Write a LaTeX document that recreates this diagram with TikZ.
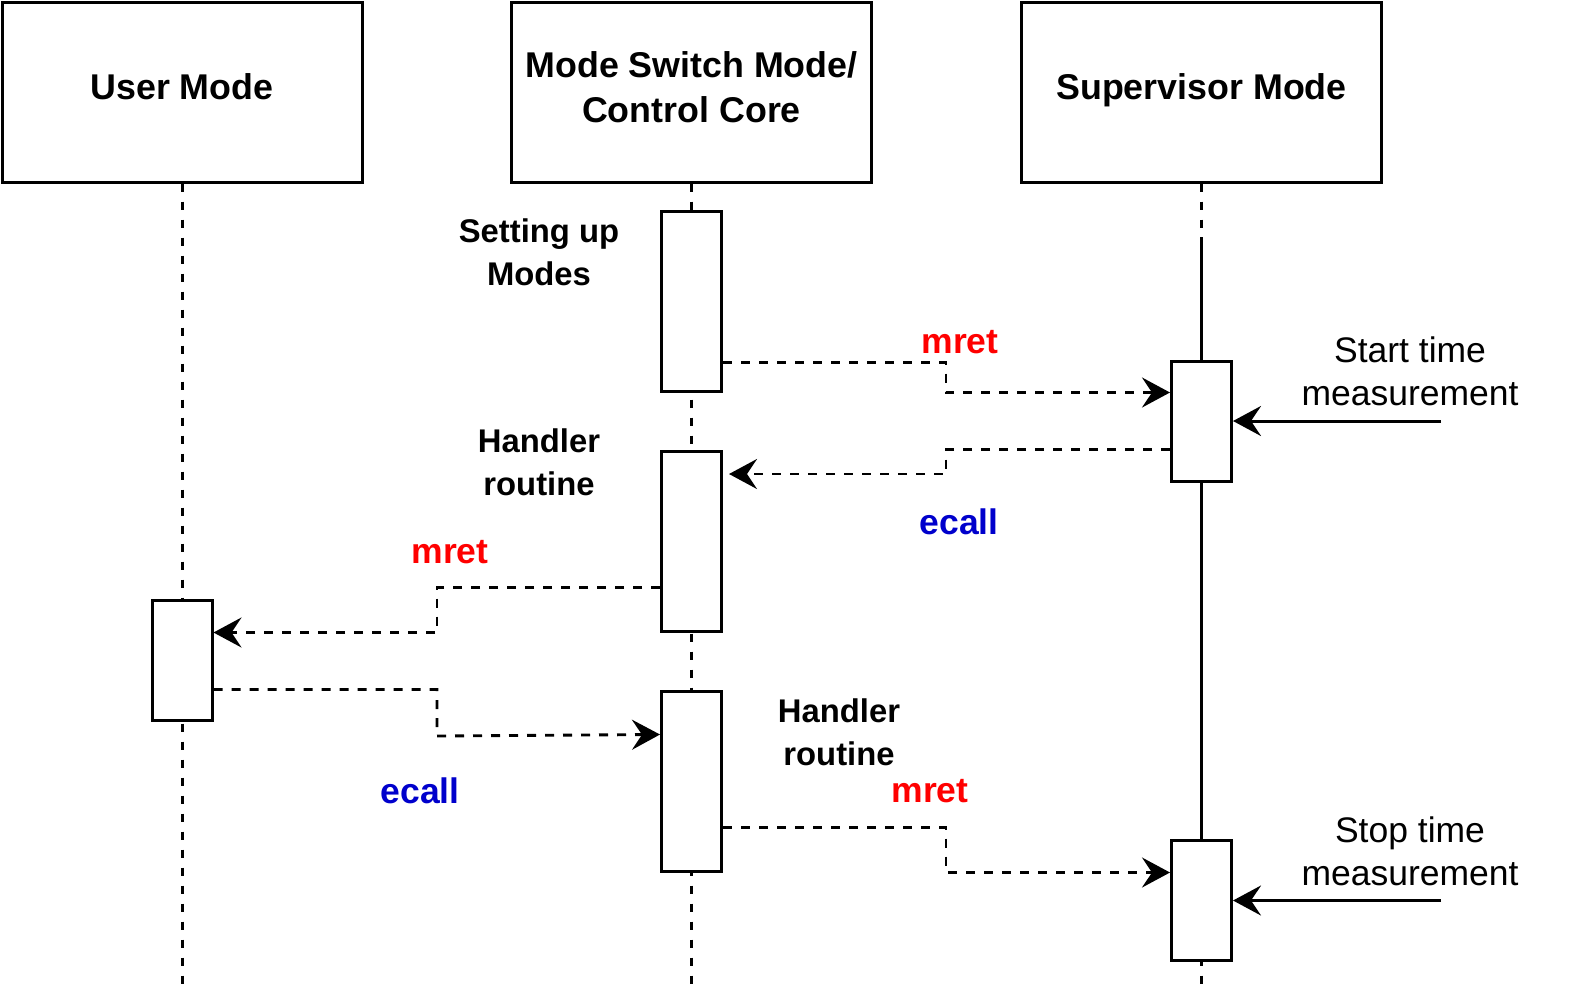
\documentclass[tikz,border=0pt]{standalone}
\usepackage{fontspec}
\setmainfont{Liberation Sans}
\usepackage{xcolor}
\usepackage{tikz}
\usetikzlibrary{calc,arrows.meta}
\definecolor{ink}{HTML}{000000}
\definecolor{mretred}{HTML}{FF0000}
\definecolor{ecallblue}{HTML}{0000CC}
\tikzset{
  head/.style={draw=ink, line width=1.5pt, fill=white, minimum width=180pt, minimum height=90pt},
  headtxt/.style={text=ink, align=center, yshift=2.5pt, font=\bfseries\fontsize{17.9}{22.5}\selectfont},
  act/.style={draw=ink, line width=1.5pt, fill=white, minimum width=30pt, inner sep=0pt},
  life/.style={draw=ink, line width=1.5pt, dash pattern=on 4pt off 5pt},
  msg/.style={draw=ink, line width=1.45pt, dash pattern=on 4.5pt off 4.5pt, -{Stealth[length=14pt,width=15pt,inset=5pt]}},
  trig/.style={draw=ink, line width=1.5pt, -{Stealth[length=14pt,width=15pt,inset=5pt]}},
  lab/.style={text=ink, align=center, font=\fontsize{17.75}{21.5}\selectfont},
  labb/.style={lab, font=\bfseries\fontsize{16.4}{21.5}\selectfont},
  ret/.style={text=mretred, font=\bfseries\fontsize{17.75}{21.5}\selectfont},
  call/.style={text=ecallblue, font=\bfseries\fontsize{17.75}{21.5}\selectfont},
}

\begin{document}
\begin{tikzpicture}[x=0.5pt, y=-0.5pt]
  \useasboundingbox (0,0) rectangle (1593,996);
  % heads
  \node[head, label={[headtxt]center:User Mode}] (user) at (182,92) {};
  \node[head, label={[headtxt]center:Mode Switch Mode/\\Control Core}] (ms) at (691.5,92) {};
  \node[head, label={[headtxt, yshift=-1.5pt]center:Supervisor Mode}] (sup) at (1201.5,92) {};
  % lifelines
  \draw[life] (user.south) -- (user.south |- 0,990);
  \draw[life] (ms.south) -- (ms.south |- 0,990);
  \draw[life] (sup.south) -- (sup.south |- 0,990);
  % activations
  \node[act, minimum height=90pt] (ms1) at (ms.south |- 0,301) {};
  \node[act, minimum height=90pt] (ms2) at (ms.south |- 0,541) {};
  \node[act, minimum height=90pt] (ms3) at (ms.south |- 0,781) {};
  \node[act, minimum height=60pt] (user1) at (user.south |- 0,660.5) {};
  \node[act, minimum height=60pt] (sup1) at (sup.south |- 0,421) {};
  \node[act, minimum height=60pt] (sup2) at (sup.south |- 0,900.5) {};
  \draw[draw=ink, line width=1.4pt] (sup.south |- 0,237) -- (sup1.north);
  \draw[draw=ink, line width=1.4pt] (sup1.south) -- (sup2.north);
  % messages
  \coordinate (midL) at (437,0);
  \coordinate (midR) at (946,0);
  \draw[msg] ([yshift=15pt]ms1.south east) -| (midR |- ms1.south) -- (sup1.west |- ms1.south);
  \draw[msg] (sup1.west |- ms2.north) -| (midR |- 0,474) -- ([xshift=3pt]ms2.east |- 0,474);
  \draw[msg] ([yshift=22.5pt]ms2.south west) -| (midL |- ms2.south) -- (user1.east |- ms2.south);
  \draw[msg] (user1.east |- ms3.north) -| (midL |- 0,736) -- ([yshift=-22.5pt]ms3.north west);
  \draw[msg] ([yshift=22.5pt]ms3.south east) -| (midR |- ms3.south) -- (sup2.west |- ms3.south);
  % time measurement
  \coordinate (t1) at (1441,421);
  \coordinate (t2) at (1441,900.5);
  \draw[trig] (t1) -- (sup1.east);
  \draw[trig] (t2) -- (sup2.east);
  % labels
  \node[labb] (setup) at (539,252) {Setting up\\Modes};
  \node[labb] (hand1) at (539,462) {Handler\\routine};
  \node[labb] (hand2) at (839,732) {Handler\\routine};
  \node[ret] (mret1) at (960,342) {mret};
  \node[call] (ecall1) at (959,522) {ecall};
  \node[ret] (mret2) at (450,552) {mret};
  \node[call] (ecall2) at (420,791) {ecall};
  \node[ret] (mret3) at (930,791) {mret};
  \node[lab] (start) at (1410,371) {Start time\\measurement};
  \node[lab] (stop) at (1410,851) {Stop time\\measurement};
\end{tikzpicture}
\end{document}
